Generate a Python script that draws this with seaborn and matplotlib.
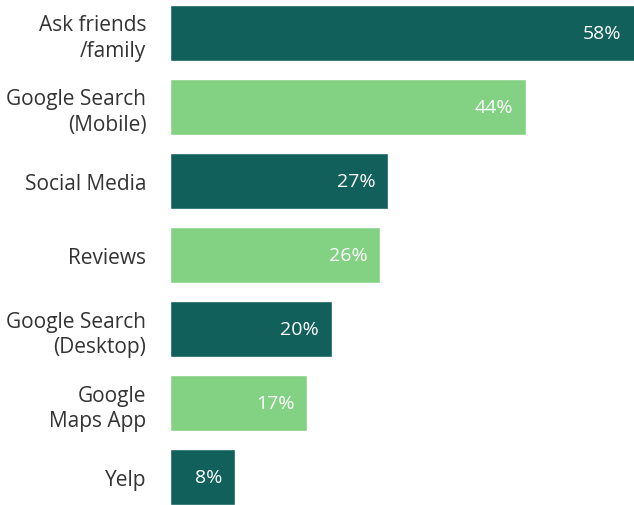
import matplotlib
matplotlib.use("Agg")
import matplotlib.pyplot as plt
import seaborn as sns
import pandas as pd

# Datos
categorias = ["Ask friends\n/family", "Google Search\n(Mobile)", "Social Media", "Reviews",
              "Google Search\n(Desktop)", "Google\nMaps App", "Yelp"]
valores = [58, 44, 27, 26, 20, 17, 8]
colores = ["#11605B", "#83D283", "#11605B", "#83D283", "#11605B", "#83D283", "#11605B"]

df = pd.DataFrame({"categoria": categorias, "valor": valores})

sns.set_theme(style="white")
plt.rcParams['font.family'] = ['Open Sans', 'DejaVu Sans']

fig = plt.figure(figsize=(6.34, 5.06), dpi=100)
ax = fig.add_axes([170 / 634, 0, 464 / 634, 500 / 506])

sns.barplot(data=df, x="valor", y="categoria", hue="categoria", palette=colores,
            orient="h", width=0.757, legend=False, ax=ax, saturation=1)

ax.set_xlim(0, 57.4)
ax.set_ylim(6.378, -0.378)

# Etiquetas de valor dentro de las barras
for i, v in enumerate(valores):
    x = min(v, 57.4)
    ax.annotate(f"{v}%", xy=(x, i), xytext=(-9, 0), textcoords="offset points",
                ha="right", va="center", color="white", fontsize=14,
                annotation_clip=False)

ax.set_xlabel("")
ax.set_ylabel("")
ax.set_xticks([])
ax.tick_params(axis="y", length=0, pad=17, labelsize=15, labelcolor="#333333")
for lbl in ax.get_yticklabels():
    lbl.set_linespacing(1.3)
sns.despine(ax=ax, left=True, bottom=True)

fig.savefig("out.png", dpi=100)
